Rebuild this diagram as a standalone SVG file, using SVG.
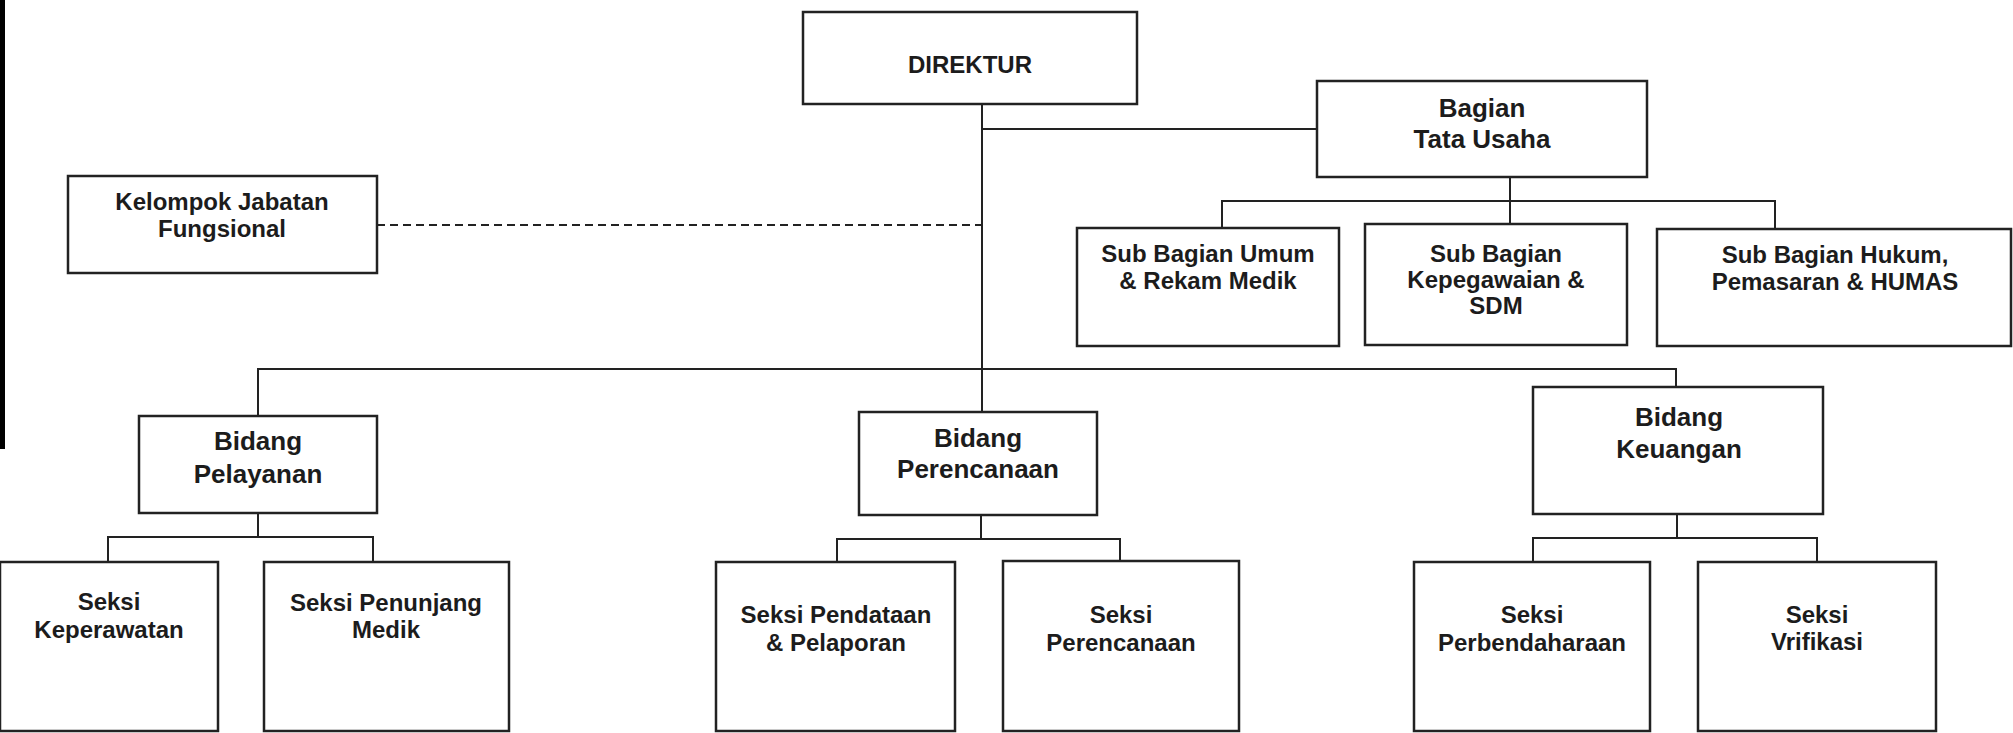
<svg xmlns="http://www.w3.org/2000/svg" width="2013" height="733" viewBox="0 0 2013 733">
<style>
.box{fill:#fff;stroke:#222;stroke-width:2.5}
.ln{fill:none;stroke:#222;stroke-width:2}
.dash{fill:none;stroke:#222;stroke-width:2;stroke-dasharray:8 5}
text{font-family:"Liberation Sans",Arial,sans-serif;font-weight:bold;fill:#1c1c1c;text-anchor:middle}
.t24{font-size:24px}
.t26{font-size:26px}
</style>
<rect x="0" y="0" width="2013" height="733" fill="#fff"/>
<rect x="0" y="0" width="5" height="449" fill="#000"/>
<g id="connectors">
<path class="ln" d="M982 104V412"/>
<path class="ln" d="M982 129H1317"/>
<path class="dash" d="M377 225H982"/>
<path class="ln" d="M1510 177V224M1222 228V201H1775V229"/>
<path class="ln" d="M258 416V369H1676V387"/>
<path class="ln" d="M258 513V537M108 562V537H373V562"/>
<path class="ln" d="M981 515V539M837 562V539H1120V561"/>
<path class="ln" d="M1677 514V538M1533 562V538H1817V562"/>
</g>
<g id="direktur"><rect class="box" x="803" y="12" width="334" height="92"/><text class="t24" x="970" y="73">DIREKTUR</text></g>
<g id="kelompok"><rect class="box" x="68" y="176" width="309" height="97"/><text class="t24" x="222" y="210">Kelompok Jabatan</text><text class="t24" x="222" y="237">Fungsional</text></g>
<g id="bagian-tu"><rect class="box" x="1317" y="81" width="330" height="96"/><text class="t26" x="1482" y="117">Bagian</text><text class="t26" x="1482" y="148">Tata Usaha</text></g>
<g id="sub-umum"><rect class="box" x="1077" y="228" width="262" height="118"/><text class="t24" x="1208" y="262">Sub Bagian Umum</text><text class="t24" x="1208" y="289">&amp; Rekam Medik</text></g>
<g id="sub-kepeg"><rect class="box" x="1365" y="224" width="262" height="121"/><text class="t24" x="1496" y="262">Sub Bagian</text><text class="t24" x="1496" y="288">Kepegawaian &amp;</text><text class="t24" x="1496" y="314">SDM</text></g>
<g id="sub-hukum"><rect class="box" x="1657" y="229" width="354" height="117"/><text class="t24" x="1835" y="263">Sub Bagian Hukum,</text><text class="t24" x="1835" y="290">Pemasaran &amp; HUMAS</text></g>
<g id="bidang-pelayanan"><rect class="box" x="139" y="416" width="238" height="97"/><text class="t26" x="258" y="450">Bidang</text><text class="t26" x="258" y="483">Pelayanan</text></g>
<g id="bidang-perencanaan"><rect class="box" x="859" y="412" width="238" height="103"/><text class="t26" x="978" y="447">Bidang</text><text class="t26" x="978" y="478">Perencanaan</text></g>
<g id="bidang-keuangan"><rect class="box" x="1533" y="387" width="290" height="127"/><text class="t26" x="1679" y="426">Bidang</text><text class="t26" x="1679" y="458">Keuangan</text></g>
<g id="seksi-keperawatan"><rect class="box" x="0" y="562" width="218" height="169"/><text class="t24" x="109" y="610">Seksi</text><text class="t24" x="109" y="638">Keperawatan</text></g>
<g id="seksi-penunjang"><rect class="box" x="264" y="562" width="245" height="169"/><text class="t24" x="386" y="611">Seksi Penunjang</text><text class="t24" x="386" y="638">Medik</text></g>
<g id="seksi-pendataan"><rect class="box" x="716" y="562" width="239" height="169"/><text class="t24" x="836" y="623">Seksi Pendataan</text><text class="t24" x="836" y="651">&amp; Pelaporan</text></g>
<g id="seksi-perencanaan"><rect class="box" x="1003" y="561" width="236" height="170"/><text class="t24" x="1121" y="623">Seksi</text><text class="t24" x="1121" y="651">Perencanaan</text></g>
<g id="seksi-perbendaharaan"><rect class="box" x="1414" y="562" width="236" height="169"/><text class="t24" x="1532" y="623">Seksi</text><text class="t24" x="1532" y="651">Perbendaharaan</text></g>
<g id="seksi-vrifikasi"><rect class="box" x="1698" y="562" width="238" height="169"/><text class="t24" x="1817" y="623">Seksi</text><text class="t24" x="1817" y="650">Vrifikasi</text></g>
</svg>
